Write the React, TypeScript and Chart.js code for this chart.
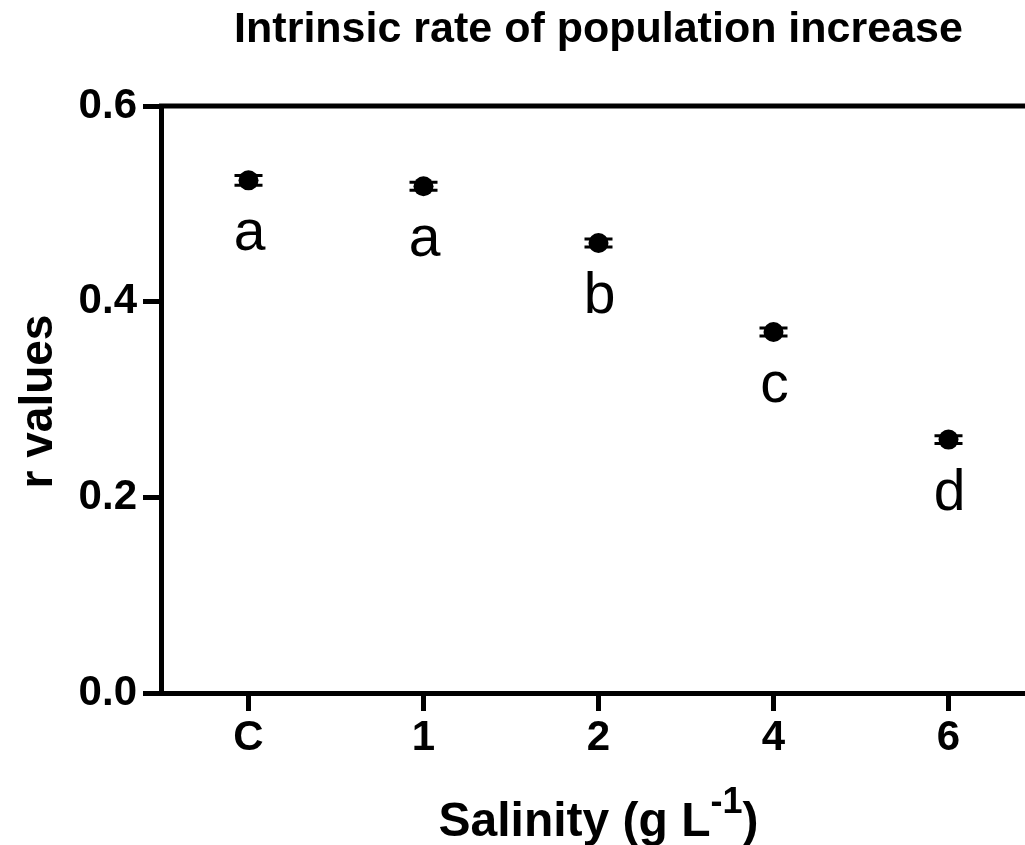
import React, { useEffect, useRef } from 'react';
import { Chart, registerables } from 'chart.js';

Chart.register(...registerables);

const categories = ['C', '1', '2', '4', '6'];
const rValues = [0.524, 0.518, 0.46, 0.369, 0.259];
const rErrors = [0.005, 0.004, 0.004, 0.004, 0.004];
const groupLetters = ['a', 'a', 'b', 'c', 'd'];
const yTicks = [0, 0.2, 0.4, 0.6];

const chartTitle = 'Intrinsic rate of population increase';
const yTitle = 'r values';
const xTitleMain = 'Salinity (g L';
const xTitleSup = '-1';
const xTitleEnd = ')';

const FONT = '"Liberation Sans", Arial, Helvetica, sans-serif';

const decorPlugin = {
  id: 'decor',
  afterDatasetsDraw(chart: any) {
    const { ctx, chartArea, scales } = chart;
    const xs = scales.x;
    const ys = scales.y;
    ctx.save();
    ctx.strokeStyle = '#000';
    ctx.fillStyle = '#000';

    // top frame line
    ctx.lineWidth = 5;
    ctx.beginPath();
    ctx.moveTo(chartArea.left - 2, chartArea.top);
    ctx.lineTo(chartArea.right + 10, chartArea.top);
    ctx.stroke();

    // error bars (caps)
    ctx.lineWidth = 3;
    rValues.forEach((v, i) => {
      const px = xs.getPixelForValue(i);
      const top = ys.getPixelForValue(v + rErrors[i]);
      const bot = ys.getPixelForValue(v - rErrors[i]);
      ctx.beginPath();
      ctx.moveTo(px, top);
      ctx.lineTo(px, bot);
      ctx.moveTo(px - 14, top);
      ctx.lineTo(px + 14, top);
      ctx.moveTo(px - 14, bot);
      ctx.lineTo(px + 14, bot);
      ctx.stroke();
    });

    // group letters
    ctx.font = `57px ${FONT}`;
    ctx.textAlign = 'center';
    ctx.textBaseline = 'alphabetic';
    groupLetters.forEach((l, i) => {
      const px = xs.getPixelForValue(i);
      const py = ys.getPixelForValue(rValues[i]);
      ctx.fillText(l, px + 1, py + 70);
    });

    const cx = (chartArea.left + chartArea.right) / 2;

    // chart title
    ctx.font = `bold 43px ${FONT}`;
    ctx.textAlign = 'center';
    ctx.fillText(chartTitle, cx, 42);

    // y title
    ctx.save();
    ctx.translate(52, (chartArea.top + chartArea.bottom) / 2 + 2);
    ctx.rotate(-Math.PI / 2);
    ctx.font = `bold 46px ${FONT}`;
    ctx.textAlign = 'center';
    ctx.fillText(yTitle, 0, 0);
    ctx.restore();

    // x title with superscript
    ctx.textAlign = 'left';
    ctx.font = `bold 48px ${FONT}`;
    const w1 = ctx.measureText(xTitleMain).width;
    const w3 = ctx.measureText(xTitleEnd).width;
    ctx.font = `bold 36px ${FONT}`;
    const w2 = ctx.measureText(xTitleSup).width;
    let sx = cx - (w1 + w2 + w3) / 2;
    ctx.font = `bold 48px ${FONT}`;
    ctx.fillText(xTitleMain, sx, 836);
    sx += w1;
    ctx.font = `bold 36px ${FONT}`;
    ctx.fillText(xTitleSup, sx, 813);
    sx += w2;
    ctx.font = `bold 48px ${FONT}`;
    ctx.fillText(xTitleEnd, sx, 836);

    ctx.restore();
  },
};

export default function App() {
  const ref = useRef<HTMLCanvasElement | null>(null);

  useEffect(() => {
    if (!ref.current) return;
    const chart = new Chart(ref.current, {
      type: 'line',
      data: {
        labels: categories,
        datasets: [
          {
            data: rValues,
            showLine: false,
            pointRadius: 10,
            pointHoverRadius: 10,
            pointBackgroundColor: '#000',
            pointBorderColor: '#000',
            pointBorderWidth: 0,
          },
        ],
      },
      options: {
        responsive: false,
        animation: false,
        devicePixelRatio: 1,
        layout: { padding: { top: 106, left: 0, right: 0, bottom: 0 } },
        plugins: {
          legend: { display: false },
          title: { display: false },
          tooltip: { enabled: false },
        },
        scales: {
          x: {
            type: 'category',
            offset: true,
            grid: {
              display: true,
              drawOnChartArea: false,
              drawTicks: true,
              tickLength: 18,
              tickWidth: 5,
              color: '#000',
              offset: false,
            },
            border: { display: true, color: '#000', width: 5 },
            ticks: {
              color: '#000',
              padding: 2,
              maxRotation: 0,
              font: { family: FONT, size: 42, weight: 'bold' },
            },
            afterFit: (scale: any) => {
              scale.height = 152;
            },
          },
          y: {
            min: 0,
            max: 0.6,
            afterBuildTicks: (scale: any) => {
              scale.ticks = yTicks.map((v) => ({ value: v }));
            },
            grid: {
              display: true,
              drawOnChartArea: false,
              drawTicks: true,
              tickLength: 18,
              tickWidth: 5,
              color: '#000',
            },
            border: { display: true, color: '#000', width: 5 },
            ticks: {
              color: '#000',
              padding: 6,
              font: { family: FONT, size: 42, weight: 'bold' },
              callback: (v: any) => Number(v).toFixed(1),
            },
            afterFit: (scale: any) => {
              scale.width = 161;
            },
          },
        },
      },
      plugins: [decorPlugin],
    });
    return () => chart.destroy();
  }, []);

  return (
    <div
      style={{
        position: 'fixed',
        left: 0,
        top: 0,
        width: 1025,
        height: 845,
        overflow: 'hidden',
        background: '#fff',
      }}
    >
      <canvas ref={ref} width={1046} height={845} style={{ display: 'block', width: 1046, height: 845 }} />
    </div>
  );
}
